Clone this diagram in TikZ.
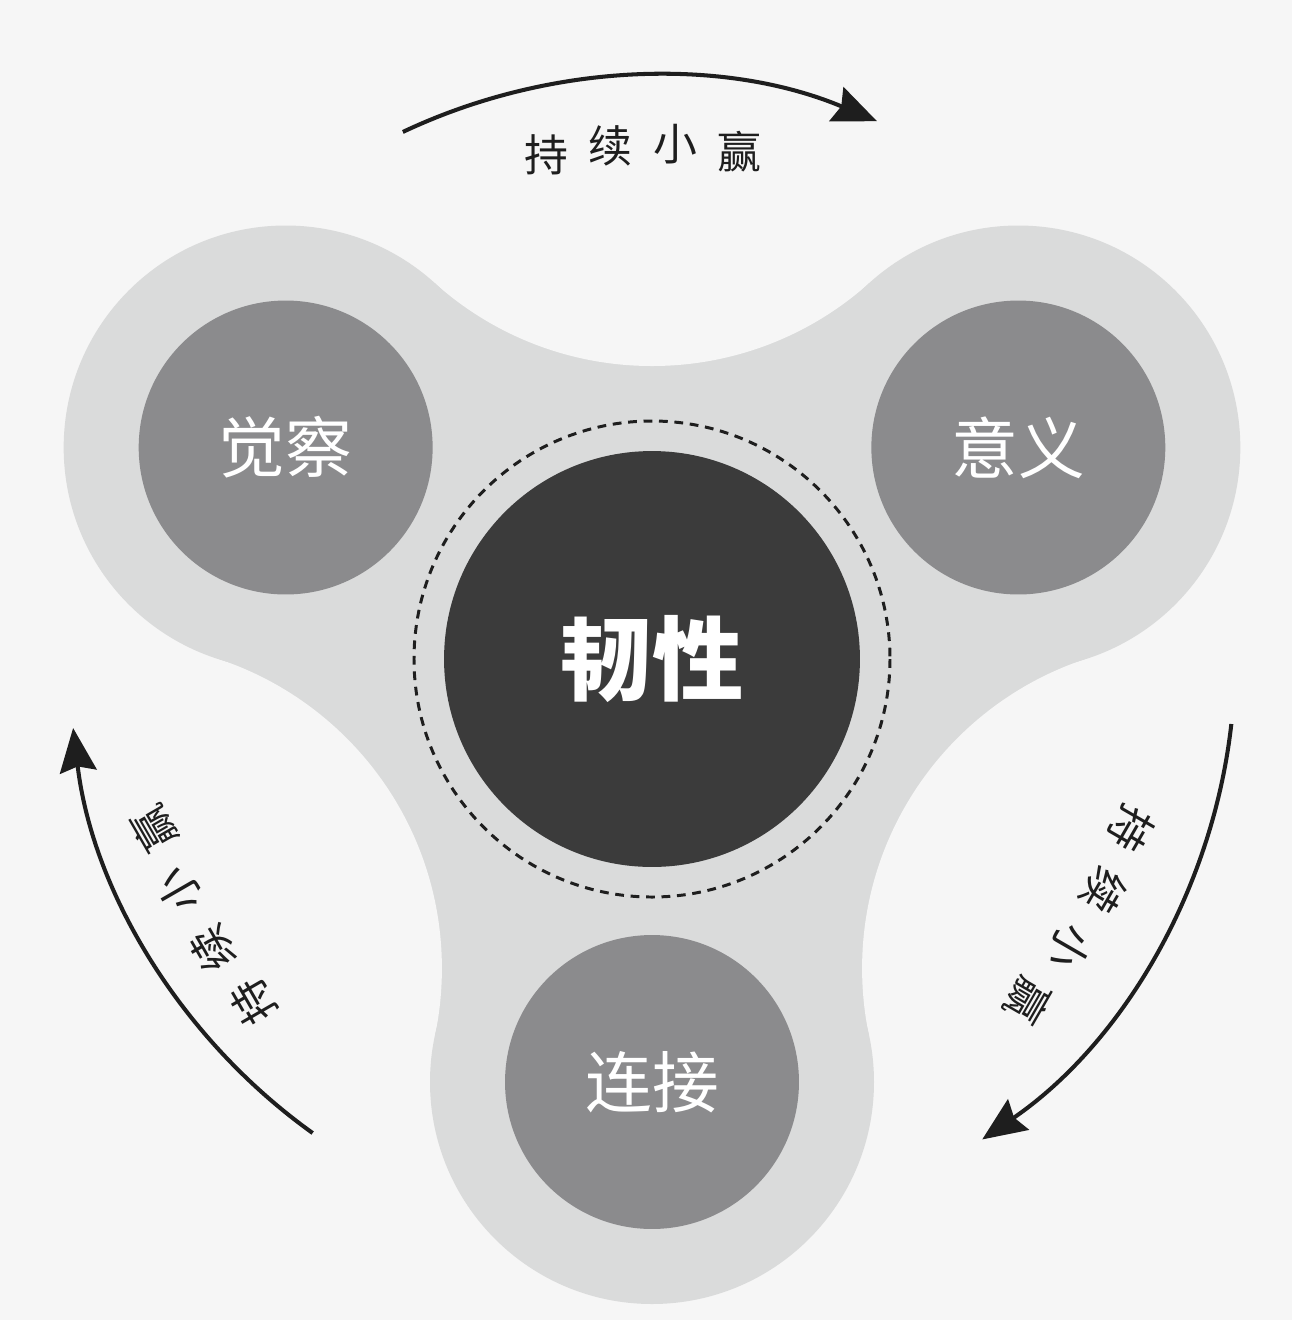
\documentclass[tikz,border=0pt]{standalone}
\usepackage{fontspec}
\newfontfamily\cjk{Noto Sans CJK SC}
\usetikzlibrary{arrows.meta,calc}
\definecolor{bgc}{HTML}{F6F6F6}
\definecolor{lobec}{HTML}{DADBDB}
\definecolor{midc}{HTML}{8B8B8D}
\definecolor{darkc}{HTML}{3B3B3B}
\definecolor{inkc}{HTML}{1E1E1E}
\begin{document}
\begin{tikzpicture}[x=0.02cm,y=-0.02cm,
  flowarc/.style={draw=inkc, line width=2.3pt, -{Stealth[length=25pt,width=21pt,inset=3pt]}},
  lobelab/.style={circle, fill=midc, minimum size=5.88cm, inner sep=0,
    font=\cjk\fontsize{38pt}{38pt}\selectfont, text=white},
  corelab/.style={circle, fill=darkc, minimum size=8.32cm, inner sep=0,
    font=\cjk\bfseries\fontsize{52pt}{52pt}\selectfont, text=white},
  arclab/.style={font=\cjk\fontsize{25pt}{25pt}\selectfont, text=inkc, inner sep=0}]
\fill[bgc] (0,0) rectangle (1292,1320);
\useasboundingbox (0,0) rectangle (1292,1320);
\coordinate (C) at (652,659);
\coordinate (L) at ($(C)+(210:423)$);
\coordinate (R) at ($(C)+(330:423)$);
\coordinate (B) at ($(C)+(90:423)$);
\coordinate (Ft) at ($(C)+(270:618.8)$);
\coordinate (Fl) at ($(C)+(150:618.8)$);
\coordinate (Fr) at ($(C)+(30:618.8)$);
% spinner body
\fill[lobec] ($(L)!0.4053!(Ft)$) -- ($(R)!0.4053!(Ft)$) -- ($(R)!0.4053!(Fr)$)
  -- ($(B)!0.4053!(Fr)$) -- ($(B)!0.4053!(Fl)$) -- ($(L)!0.4053!(Fl)$) -- cycle;
\fill[bgc] (Ft) circle[radius=325.8];
\fill[bgc] (Fl) circle[radius=325.8];
\fill[bgc] (Fr) circle[radius=325.8];
\fill[lobec] (L) circle[radius=222];
\fill[lobec] (R) circle[radius=222];
\fill[lobec] (B) circle[radius=222];
% dashed ring
\draw[inkc, line width=1.7pt, dash pattern=on 5pt off 3.8pt] (C) circle[radius=238];
% circles with labels
\node[lobelab] (aware) at (L) {觉察};
\node[lobelab] (meaning) at (R) {意义};
\node[lobelab] (connect) at (B) {连接};
\node[corelab] (core) at (C) {韧性};
% arrows
\coordinate (a1) at ($(C)+(244.7:583)$);
\coordinate (a2) at ($(C)+(6.4:583)$);
\coordinate (a3) at ($(C)+(125.6:583)$);
\draw[flowarc] (a1) arc[start angle=244.7, end angle=292.7, radius=583];
\draw[flowarc] (a2) arc[start angle=6.4, end angle=55.5, radius=583];
\draw[flowarc] (a3) arc[start angle=125.6, end angle=173.2, radius=583];
% labels along arrows
\node[arclab] (t1) at ($(C)+(258.2:515)$) {持};
\node[arclab] (t2) at ($(C)+(265.4:515)$) {续};
\node[arclab] (t3) at ($(C)+(272.6:515)$) {小};
\node[arclab] (t4) at ($(C)+(279.8:515)$) {赢};
\node[arclab, rotate=-120] (r1) at ($(C)+(19.5:508)$) {持};
\node[arclab, rotate=-120] (r2) at ($(C)+(27.1:508)$) {续};
\node[arclab, rotate=-120] (r3) at ($(C)+(34.7:508)$) {小};
\node[arclab, rotate=-120] (r4) at ($(C)+(42.3:508)$) {赢};
\node[arclab, rotate=120] (l1) at ($(C)+(139.3:526)$) {持};
\node[arclab, rotate=120] (l2) at ($(C)+(146.6:526)$) {续};
\node[arclab, rotate=120] (l3) at ($(C)+(153.9:526)$) {小};
\node[arclab, rotate=120] (l4) at ($(C)+(161.2:526)$) {赢};
\end{tikzpicture}
\end{document}
